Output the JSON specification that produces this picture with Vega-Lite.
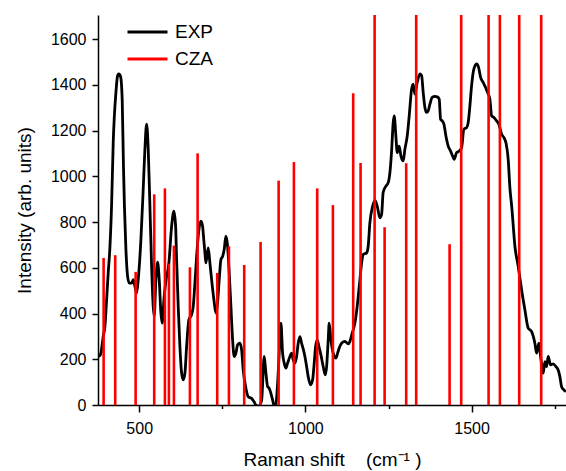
{
  "$schema": "https://vega.github.io/schema/vega-lite/v6.json",
  "width": 468,
  "height": 390,
  "autosize": {"type": "none"},
  "padding": {"left": 98, "top": 15, "right": 0, "bottom": 66},
  "background": "white",
  "config": {
    "view": {"stroke": null},
    "font": "Liberation Sans",
    "axis": {
      "grid": false,
      "domainColor": "#000000",
      "domainWidth": 1.5,
      "tickColor": "#000000",
      "tickWidth": 1.5,
      "labelColor": "#000000",
      "labelFont": "Liberation Sans",
      "labelFontSize": 16,
      "titleColor": "#000000",
      "titleFont": "Liberation Sans",
      "titleFontSize": 19,
      "titleFontWeight": "normal"
    }
  },
  "datasets": {
    "exp": [
      {"shift": 376.7, "I": 212}, {"shift": 381, "I": 215}, {"shift": 384.8, "I": 227},
      {"shift": 391.7, "I": 300}, {"shift": 396.8, "I": 343}, {"shift": 401.9, "I": 460},
      {"shift": 406.7, "I": 577}, {"shift": 411.9, "I": 690}, {"shift": 417.0, "I": 880},
      {"shift": 421.8, "I": 1147}, {"shift": 429.9, "I": 1366}, {"shift": 435, "I": 1440},
      {"shift": 438.9, "I": 1447}, {"shift": 444, "I": 1435}, {"shift": 448.9, "I": 1330},
      {"shift": 452.5, "I": 1050}, {"shift": 455.5, "I": 870}, {"shift": 460, "I": 680},
      {"shift": 465.1, "I": 562}, {"shift": 469.9, "I": 533}, {"shift": 477.1, "I": 533},
      {"shift": 482, "I": 548}, {"shift": 487.1, "I": 519}, {"shift": 492.2, "I": 490},
      {"shift": 497, "I": 548}, {"shift": 505.1, "I": 723}, {"shift": 512, "I": 943},
      {"shift": 517.1, "I": 1118}, {"shift": 522.3, "I": 1228}, {"shift": 527.1, "I": 1118},
      {"shift": 532.2, "I": 869}, {"shift": 537.3, "I": 606}, {"shift": 542.1, "I": 431},
      {"shift": 545.1, "I": 387}, {"shift": 550.2, "I": 548}, {"shift": 555.4, "I": 624},
      {"shift": 560.2, "I": 548}, {"shift": 565.3, "I": 402}, {"shift": 569.2, "I": 358},
      {"shift": 574.3, "I": 460}, {"shift": 579.4, "I": 533}, {"shift": 589.3, "I": 621},
      {"shift": 597.5, "I": 782}, {"shift": 604.4, "I": 847}, {"shift": 609.5, "I": 782},
      {"shift": 612.5, "I": 636}, {"shift": 617.3, "I": 431}, {"shift": 622.4, "I": 256},
      {"shift": 627.6, "I": 139}, {"shift": 632.4, "I": 110}, {"shift": 637.5, "I": 139},
      {"shift": 642.6, "I": 256}, {"shift": 649.5, "I": 373}, {"shift": 657.6, "I": 395},
      {"shift": 662.5, "I": 431}, {"shift": 667.6, "I": 533}, {"shift": 672.7, "I": 650},
      {"shift": 679.6, "I": 767}, {"shift": 685.6, "I": 804}, {"shift": 690.7, "I": 782},
      {"shift": 692.5, "I": 753}, {"shift": 697.7, "I": 665}, {"shift": 700.7, "I": 621},
      {"shift": 707.6, "I": 687}, {"shift": 712.7, "I": 621}, {"shift": 717.8, "I": 548},
      {"shift": 724.7, "I": 460}, {"shift": 730.7, "I": 402}, {"shift": 734.7, "I": 431},
      {"shift": 740.7, "I": 548}, {"shift": 745.8, "I": 636}, {"shift": 750.9, "I": 650},
      {"shift": 755.7, "I": 680}, {"shift": 760.8, "I": 738}, {"shift": 765.9, "I": 694},
      {"shift": 770.8, "I": 577}, {"shift": 775.9, "I": 431}, {"shift": 781, "I": 285},
      {"shift": 785.8, "I": 212}, {"shift": 790.9, "I": 227}, {"shift": 796, "I": 263},
      {"shift": 802.9, "I": 270}, {"shift": 808.1, "I": 241}, {"shift": 812.9, "I": 153},
      {"shift": 821, "I": 73}, {"shift": 827.9, "I": 36}, {"shift": 838.1, "I": 29},
      {"shift": 845.1, "I": 15}, {"shift": 851.1, "I": 0}, {"shift": 860.1, "I": -5},
      {"shift": 868.2, "I": 20}, {"shift": 876, "I": 212}, {"shift": 881.2, "I": 139},
      {"shift": 886.3, "I": 80}, {"shift": 891.1, "I": 73}, {"shift": 896.2, "I": 51},
      {"shift": 901.3, "I": 22}, {"shift": 905.2, "I": 0}, {"shift": 911.2, "I": 7},
      {"shift": 916.4, "I": 95}, {"shift": 921.2, "I": 227}, {"shift": 926.3, "I": 358},
      {"shift": 931.4, "I": 227}, {"shift": 936.2, "I": 183}, {"shift": 941.3, "I": 161},
      {"shift": 946.4, "I": 183}, {"shift": 953.4, "I": 212}, {"shift": 958.5, "I": 227},
      {"shift": 963.3, "I": 197}, {"shift": 968.4, "I": 183}, {"shift": 973.5, "I": 212},
      {"shift": 978.3, "I": 270}, {"shift": 983.4, "I": 299}, {"shift": 988.6, "I": 270},
      {"shift": 993.4, "I": 245}, {"shift": 998.5, "I": 212}, {"shift": 1003.6, "I": 168},
      {"shift": 1008.4, "I": 124}, {"shift": 1015.6, "I": 88}, {"shift": 1021.7, "I": 110},
      {"shift": 1025.6, "I": 168}, {"shift": 1030.7, "I": 256}, {"shift": 1035.5, "I": 285},
      {"shift": 1040.6, "I": 256}, {"shift": 1046.6, "I": 219}, {"shift": 1053.5, "I": 168},
      {"shift": 1059.6, "I": 132}, {"shift": 1063.8, "I": 168}, {"shift": 1068.6, "I": 285},
      {"shift": 1071.6, "I": 358}, {"shift": 1076.7, "I": 285}, {"shift": 1083.6, "I": 227},
      {"shift": 1091.7, "I": 205}, {"shift": 1096.9, "I": 227}, {"shift": 1101.7, "I": 249},
      {"shift": 1108.9, "I": 270}, {"shift": 1118.8, "I": 278}, {"shift": 1128.8, "I": 267},
      {"shift": 1133.9, "I": 278}, {"shift": 1140.8, "I": 314}, {"shift": 1148.9, "I": 358},
      {"shift": 1155.8, "I": 431}, {"shift": 1164, "I": 548}, {"shift": 1169.1, "I": 621},
      {"shift": 1173.9, "I": 658}, {"shift": 1184.1, "I": 665}, {"shift": 1188.9, "I": 694},
      {"shift": 1194, "I": 797}, {"shift": 1202.2, "I": 869}, {"shift": 1209.1, "I": 895},
      {"shift": 1216, "I": 869}, {"shift": 1224.1, "I": 818}, {"shift": 1229.2, "I": 833},
      {"shift": 1234, "I": 930}, {"shift": 1242.2, "I": 957}, {"shift": 1249.1, "I": 972},
      {"shift": 1254.2, "I": 1016}, {"shift": 1259.3, "I": 1110}, {"shift": 1264.1, "I": 1235},
      {"shift": 1267.1, "I": 1264}, {"shift": 1272.2, "I": 1176}, {"shift": 1276.2, "I": 1103},
      {"shift": 1282.2, "I": 1132}, {"shift": 1287.3, "I": 1089}, {"shift": 1294.2, "I": 1067},
      {"shift": 1299.3, "I": 1118}, {"shift": 1306.3, "I": 1176}, {"shift": 1312.3, "I": 1264},
      {"shift": 1319.5, "I": 1381}, {"shift": 1324.3, "I": 1403}, {"shift": 1329.4, "I": 1359},
      {"shift": 1336.3, "I": 1410}, {"shift": 1344.5, "I": 1447}, {"shift": 1349.6, "I": 1440},
      {"shift": 1354.4, "I": 1366}, {"shift": 1359.5, "I": 1301}, {"shift": 1364.6, "I": 1279},
      {"shift": 1369.4, "I": 1286}, {"shift": 1374.5, "I": 1315}, {"shift": 1381.5, "I": 1345},
      {"shift": 1389.6, "I": 1349}, {"shift": 1396.5, "I": 1347}, {"shift": 1402.5, "I": 1337},
      {"shift": 1406.7, "I": 1249}, {"shift": 1411.5, "I": 1242}, {"shift": 1416.7, "I": 1228},
      {"shift": 1422.7, "I": 1176}, {"shift": 1429.6, "I": 1132}, {"shift": 1436.8, "I": 1110},
      {"shift": 1442.8, "I": 1089}, {"shift": 1447.6, "I": 1074}, {"shift": 1454.9, "I": 1103},
      {"shift": 1462.7, "I": 1110}, {"shift": 1469.9, "I": 1125}, {"shift": 1476.8, "I": 1206},
      {"shift": 1484.9, "I": 1213}, {"shift": 1489.8, "I": 1235}, {"shift": 1494.9, "I": 1308},
      {"shift": 1500, "I": 1396}, {"shift": 1506.9, "I": 1469}, {"shift": 1515, "I": 1491},
      {"shift": 1521, "I": 1476}, {"shift": 1527.1, "I": 1432}, {"shift": 1534.9, "I": 1410},
      {"shift": 1542.1, "I": 1388}, {"shift": 1548.1, "I": 1366}, {"shift": 1555, "I": 1337},
      {"shift": 1560.2, "I": 1264}, {"shift": 1567.1, "I": 1257}, {"shift": 1575.2, "I": 1242},
      {"shift": 1582.1, "I": 1228}, {"shift": 1590.2, "I": 1184}, {"shift": 1597.2, "I": 1169},
      {"shift": 1603.2, "I": 1147}, {"shift": 1610.1, "I": 1074}, {"shift": 1615.2, "I": 950},
      {"shift": 1621.2, "I": 860}, {"shift": 1630.3, "I": 694}, {"shift": 1640.2, "I": 606},
      {"shift": 1650.4, "I": 504}, {"shift": 1660.3, "I": 416}, {"shift": 1670.3, "I": 336},
      {"shift": 1680.5, "I": 321}, {"shift": 1690.4, "I": 270}, {"shift": 1695.5, "I": 227},
      {"shift": 1702.5, "I": 270}, {"shift": 1707.6, "I": 212}, {"shift": 1715.4, "I": 139},
      {"shift": 1720.5, "I": 190}, {"shift": 1725.6, "I": 168}, {"shift": 1730.4, "I": 212},
      {"shift": 1737.7, "I": 175}, {"shift": 1745.5, "I": 180}, {"shift": 1753.6, "I": 168},
      {"shift": 1760.5, "I": 153}, {"shift": 1765.6, "I": 124}, {"shift": 1770.8, "I": 80},
      {"shift": 1777.7, "I": 66}, {"shift": 1783.7, "I": 58}
    ],
    "cza": [
      {"shift": 392.9, "I": 643}, {"shift": 427.8, "I": 655}, {"shift": 489.2, "I": 582},
      {"shift": 545.1, "I": 921}, {"shift": 577.3, "I": 947}, {"shift": 589.3, "I": 618},
      {"shift": 604.4, "I": 697}, {"shift": 652.5, "I": 602}, {"shift": 675.7, "I": 1100},
      {"shift": 734.7, "I": 577}, {"shift": 769.9, "I": 694}, {"shift": 815.9, "I": 612},
      {"shift": 865.2, "I": 713}, {"shift": 919.4, "I": 981}, {"shift": 965.4, "I": 1062},
      {"shift": 1035.5, "I": 947}, {"shift": 1082.7, "I": 874}, {"shift": 1143.8, "I": 1363},
      {"shift": 1166, "I": 1058}, {"shift": 1208.2, "I": 1705}, {"shift": 1238.3, "I": 777},
      {"shift": 1303.2, "I": 1057}, {"shift": 1333.3, "I": 1705}, {"shift": 1433.8, "I": 703},
      {"shift": 1468.7, "I": 1705}, {"shift": 1551.1, "I": 1705}, {"shift": 1585.1, "I": 1705},
      {"shift": 1643.2, "I": 1705}, {"shift": 1709.4, "I": 1705}
    ]
  },
  "layer": [
    {
      "data": {"name": "exp"},
      "mark": {"type": "line", "strokeWidth": 2.8, "clip": true, "interpolate": "monotone"},
      "encoding": {
        "x": {
          "field": "shift", "type": "quantitative",
          "scale": {"domain": [376, 1784], "nice": false, "zero": false},
          "axis": {
            "title": "Raman shift\u00a0\u00a0\u00a0\u00a0(cm\u207b\u00b9\u00a0)",
            "values": [500, 750, 1000, 1250, 1500, 1750],
            "format": "d",
            "labelExpr": "datum.value % 500 === 0 ? datum.label : ''",
            "tickSize": {"condition": {"test": "datum.value % 500 !== 0", "value": 3.5}, "value": 7},
            "labelPadding": 8,
            "titlePadding": 14,
            "labelFlush": false
          }
        },
        "y": {
          "field": "I", "type": "quantitative",
          "scale": {"domain": [0, 1705], "nice": false, "zero": true},
          "axis": {
            "title": "Intensity (arb. units)",
            "values": [0, 100, 200, 300, 400, 500, 600, 700, 800, 900, 1000, 1100, 1200, 1300, 1400, 1500, 1600, 1700],
            "format": "d",
            "labelExpr": "datum.value % 200 === 0 ? datum.label : ''",
            "tickSize": {"condition": {"test": "datum.value % 200 !== 0", "value": 3.5}, "value": 6},
            "labelPadding": 6,
            "titlePadding": 16,
            "labelFlush": false
          }
        },
        "color": {
          "datum": "EXP",
          "scale": {"domain": ["EXP", "CZA"], "range": ["#000000", "#ff0000"]},
          "legend": {
            "title": null,
            "orient": "none",
            "legendX": 28,
            "legendY": 6,
            "padding": 0,
            "symbolType": "stroke",
            "symbolSize": 1600,
            "symbolStrokeWidth": 3,
            "clipHeight": 22,
            "labelFont": "Liberation Sans",
            "labelFontSize": 19,
            "labelColor": "#000000",
            "labelOffset": 6,
            "rowPadding": 5
          }
        }
      }
    },
    {
      "data": {"name": "cza"},
      "mark": {"type": "rule", "strokeWidth": 2.6, "clip": true},
      "encoding": {
        "x": {"field": "shift", "type": "quantitative"},
        "y": {"field": "I", "type": "quantitative"},
        "y2": {"datum": 0},
        "color": {"datum": "CZA"}
      }
    }
  ]
}
